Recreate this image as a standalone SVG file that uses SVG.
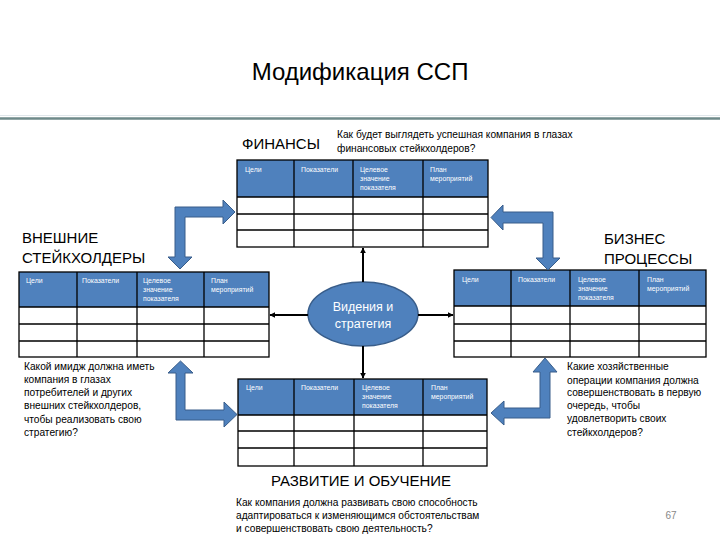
<svg xmlns="http://www.w3.org/2000/svg" width="720" height="540" viewBox="0 0 720 540">
<defs>
<style>
text{font-family:"Liberation Sans","Noto Sans",sans-serif;fill:#000}
.title{font-size:24px}
.head{font-size:15px}
.q{font-size:10.2px}
.h{font-size:6.9px;fill:#fff}
.hdr{fill:#4f81bd}
.grid{fill:none;stroke:#000;stroke-width:1.3}
.blk{fill:#4f81bd;stroke:#385d8a;stroke-width:1}
.con{stroke:#000;stroke-width:2;fill:none}
.ew{font-size:12.5px;fill:#fff}
</style>
<marker id="ah" viewBox="0 0 10 10" refX="9" refY="5" markerWidth="3" markerHeight="3" orient="auto">
<path d="M0,0 L10,5 L0,10 Z" fill="#000"/>
</marker>
</defs>
<rect width="720" height="540" fill="#fff"/>
<g id="title">
<text class="title" x="360" y="80" text-anchor="middle">Модификация ССП</text>
<line x1="0" y1="115.5" x2="720" y2="115.5" stroke="#dfe6ea" stroke-width="1"/>
<line x1="0" y1="118.5" x2="720" y2="118.5" stroke="#6f8a8a" stroke-width="2.5"/>
</g>

<g id="finance">
<text class="head" x="242" y="149">ФИНАНСЫ</text>
<text class="q" x="337" y="138">Как будет выглядеть успешная компания в глазах</text>
<text class="q" x="337" y="152">финансовых стейкхолдеров?</text>
<rect class="hdr" x="237" y="160" width="251" height="37"/>
<rect class="grid" x="237" y="160" width="251" height="87"/>
<path class="grid" d="M237,197H488M237,214H488M237,230H488M294,160V247M353,160V247M423,160V247"/>
<text class="h" x="245" y="172">Цели</text>
<text class="h" x="301" y="172">Показатели</text>
<text class="h" x="360" y="172">Целевое</text>
<text class="h" x="360" y="181">значение</text>
<text class="h" x="360" y="190">показателя</text>
<text class="h" x="430" y="172">План</text>
<text class="h" x="430" y="181">мероприятий</text>
</g>

<g id="external">
<text class="head" x="22" y="243">ВНЕШНИЕ</text>
<text class="head" x="22" y="263">СТЕЙКХОЛДЕРЫ</text>
<rect class="hdr" x="19" y="272" width="250" height="35"/>
<rect class="grid" x="19" y="272" width="250" height="85"/>
<path class="grid" d="M19,307H269M19,324H269M19,341H269M77,272V357M137,272V357M204,272V357"/>
<text class="h" x="26" y="283">Цели</text>
<text class="h" x="82" y="283">Показатели</text>
<text class="h" x="143" y="283">Целевое</text>
<text class="h" x="143" y="292">значение</text>
<text class="h" x="143" y="301">показателя</text>
<text class="h" x="211" y="283">План</text>
<text class="h" x="211" y="292">мероприятий</text>
<text class="q" x="24" y="370">Какой имидж должна иметь</text>
<text class="q" x="24" y="383">компания в глазах</text>
<text class="q" x="24" y="396">потребителей и других</text>
<text class="q" x="24" y="409">внешних стейкхолдеров,</text>
<text class="q" x="24" y="423">чтобы реализовать свою</text>
<text class="q" x="24" y="436">стратегию?</text>
</g>

<g id="business">
<text class="head" x="604" y="244">БИЗНЕС</text>
<text class="head" x="604" y="264">ПРОЦЕССЫ</text>
<rect class="hdr" x="454" y="270" width="252" height="36"/>
<rect class="grid" x="454" y="270" width="252" height="87"/>
<path class="grid" d="M454,306H706M454,324H706M454,341H706M511,270V357M570,270V357M639,270V357"/>
<text class="h" x="462" y="282">Цели</text>
<text class="h" x="518" y="282">Показатели</text>
<text class="h" x="578" y="282">Целевое</text>
<text class="h" x="578" y="291">значение</text>
<text class="h" x="578" y="300">показателя</text>
<text class="h" x="647" y="282">План</text>
<text class="h" x="647" y="291">мероприятий</text>
<text class="q" x="567" y="370">Какие хозяйственные</text>
<text class="q" x="567" y="384">операции компания должна</text>
<text class="q" x="567" y="396">совершенствовать в первую</text>
<text class="q" x="567" y="409">очередь,  чтобы</text>
<text class="q" x="567" y="422">удовлетворить своих</text>
<text class="q" x="567" y="436">стейкхолдеров?</text>
</g>

<g id="learning">
<rect class="hdr" x="238" y="379" width="249" height="36"/>
<rect class="grid" x="238" y="379" width="249" height="87"/>
<path class="grid" d="M238,415H487M238,431H487M238,448H487M294,379V466M354,379V466M423,379V466"/>
<text class="h" x="246" y="390">Цели</text>
<text class="h" x="301" y="390">Показатели</text>
<text class="h" x="362" y="390">Целевое</text>
<text class="h" x="362" y="399">значение</text>
<text class="h" x="362" y="408">показателя</text>
<text class="h" x="431" y="390">План</text>
<text class="h" x="431" y="399">мероприятий</text>
<text class="head" x="361" y="486" text-anchor="middle">РАЗВИТИЕ И ОБУЧЕНИЕ</text>
<text class="q" x="236" y="506">Как компания должна развивать свою способность</text>
<text class="q" x="236" y="519">адаптироваться к изменяющимся обстоятельствам</text>
<text class="q" x="236" y="532">и совершенствовать свою деятельность?</text>
</g>

<g id="vision">
<ellipse cx="363" cy="314" rx="55" ry="32" fill="#4f81bd" stroke="#385d8a" stroke-width="1.5"/>
<text class="ew" x="363" y="311" text-anchor="middle">Видения и</text>
<text class="ew" x="363" y="328" text-anchor="middle">стратегия</text>
</g>

<g id="page-number">
<text x="671" y="519" font-size="10" text-anchor="middle" style="fill:#888">67</text>
</g>

<g id="connectors">
<line class="con" x1="363" y1="282" x2="363" y2="248" marker-end="url(#ah)"/>
<line class="con" x1="363" y1="346" x2="363" y2="378" marker-end="url(#ah)"/>
<line class="con" x1="308" y1="315" x2="270" y2="315" marker-end="url(#ah)"/>
<line class="con" x1="418" y1="315" x2="453" y2="315" marker-end="url(#ah)"/>
<path class="blk" d="M175,207 L223,207 L223,200 L235,212 L223,224 L223,217 L185,217 L185,257 L192,257 L180,269 L168,257 L175,257 Z"/>
<path class="blk" d="M553,212 L553,258 L560,258 L548,270 L536,258 L543,258 L543,223 L503,223 L503,230 L491,217.5 L503,205 L503,212 Z"/>
<path class="blk" d="M176,420 L176,373 L168,373 L180.5,361 L193,373 L185,373 L185,410 L224,410 L224,402 L237,414.5 L224,427 L224,420 Z"/>
<path class="blk" d="M550,418 L504,418 L504,425 L491,413 L504,401 L504,408 L540,408 L540,372 L533,372 L545,358 L557,372 L550,372 Z"/>
</g>
</svg>
